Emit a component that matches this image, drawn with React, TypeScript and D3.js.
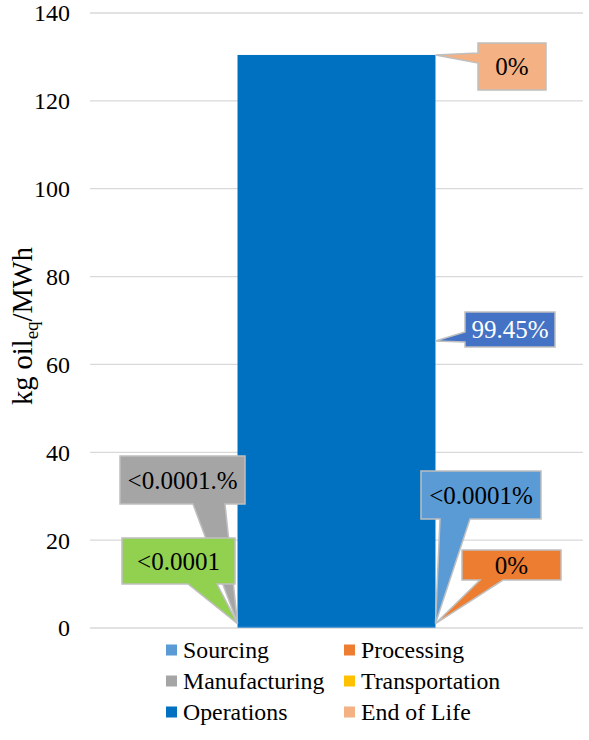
import { useRef, useEffect } from "react";
import * as d3 from "d3";

// stacked segments of the single bar, kg oil_eq/MWh
const stages = ["Sourcing", "Processing", "Manufacturing", "Transportation", "Operations", "End of Life"];
const values = [0.25, 0, 0.0001, 0.0001, 130.2, 0];
const labels = ["<0.0001%", "0%", "<0.0001.%", "<0.0001", "99.45%", "0%"];
const yTicks = [0, 20, 40, 60, 80, 100, 120, 140];

const colors = ["#5B9BD5", "#ED7D31", "#A5A5A5", "#FFC000", "#0070C0", "#F4B183"];
const labelFills = ["#5B9BD5", "#ED7D31", "#A5A5A5", "#92D050", "#4472C4", "#F4B183"];
const labelText = ["#000", "#000", "#000", "#000", "#fff", "#000"];

// callout boxes [x0, y0, x1, y1], pointer side, pointer base, which bar edge and where
type Callout = { box: number[]; side: "bottom" | "left"; base: number[]; edge: "l" | "r"; at: "mid" | "top" };
const callouts: Callout[] = [
  { box: [421, 471, 541, 519], side: "bottom", base: [440, 470], edge: "r", at: "mid" },
  { box: [462, 550, 561, 580], side: "bottom", base: [480, 503], edge: "r", at: "mid" },
  { box: [120, 456, 245, 504], side: "bottom", base: [193, 225], edge: "l", at: "mid" },
  { box: [122, 538, 235, 584], side: "bottom", base: [188, 217], edge: "l", at: "mid" },
  { box: [465, 312, 555, 347], side: "left", base: [332, 342], edge: "r", at: "mid" },
  { box: [478, 43, 546, 90], side: "left", base: [53, 63], edge: "r", at: "top" },
];

const font = "Liberation Serif";

export default function App() {
  const svgRef = useRef<SVGSVGElement>(null);

  useEffect(() => {
    if (!svgRef.current) return;
    const svg = d3.select(svgRef.current);
    svg.selectAll("*").remove();

    const y = d3.scaleLinear().domain([0, 140]).range([628, 13]);
    const x = d3.scaleBand().domain(["bar"]).range([90, 583]).padding(0.427);

    // gridlines
    svg
      .append("g")
      .selectAll("line")
      .data(yTicks)
      .join("line")
      .attr("x1", 90)
      .attr("x2", 583)
      .attr("y1", (d) => y(d))
      .attr("y2", (d) => y(d))
      .attr("stroke", "#d9d9d9")
      .attr("stroke-width", 1.3);

    svg
      .append("g")
      .selectAll("text")
      .data(yTicks)
      .join("text")
      .attr("x", 70)
      .attr("y", (d) => y(d))
      .attr("dy", "0.35em")
      .attr("text-anchor", "end")
      .style("font-family", font)
      .style("font-size", "24px")
      .attr("fill", "#000")
      .text((d) => d);

    // axis title
    const title = svg
      .append("text")
      .attr("transform", "translate(32,326) rotate(-90)")
      .attr("text-anchor", "middle")
      .style("font-family", font)
      .style("font-size", "28.5px")
      .attr("fill", "#000");
    title.append("tspan").text("kg oil");
    title.append("tspan").attr("dy", 6).style("font-size", "19px").text("eq");
    title.append("tspan").attr("dy", -6).text("/MWh");

    // stacked bar
    const row: Record<string, number> = {};
    stages.forEach((s, i) => (row[s] = values[i]));
    const series = d3.stack<Record<string, number>>().keys(stages)([row]);

    const bx = x("bar")!;
    const bw = x.bandwidth();
    svg
      .append("g")
      .selectAll("rect")
      .data(series)
      .join("rect")
      .attr("x", bx)
      .attr("width", bw)
      .attr("y", (d) => y(d[0][1]))
      .attr("height", (d) => y(d[0][0]) - y(d[0][1]))
      .attr("fill", (_, i) => colors[i]);

    // callouts
    const cg = svg.append("g");
    series.forEach((s, i) => {
      const c = callouts[i];
      const [x0, y0, x1, y1] = c.box;
      const tx = c.edge === "r" ? bx + bw : bx;
      const v = c.at === "top" ? s[0][1] : (s[0][0] + s[0][1]) / 2;
      const ty = Math.min(y(v), y(1));
      let p: string;
      if (c.side === "bottom") {
        p = `M${x0},${y0}H${x1}V${y1}H${c.base[1]}L${tx},${ty}L${c.base[0]},${y1}H${x0}Z`;
      } else {
        p = `M${x0},${y0}H${x1}V${y1}H${x0}V${c.base[1]}L${tx},${ty}L${x0},${c.base[0]}Z`;
      }
      cg.append("path")
        .attr("d", p)
        .attr("fill", labelFills[i])
        .attr("stroke", "#BFBFBF")
        .attr("stroke-width", 1.5);
      cg.append("text")
        .attr("x", (x0 + x1) / 2)
        .attr("y", (y0 + y1) / 2)
        .attr("dy", "0.35em")
        .attr("text-anchor", "middle")
        .style("font-family", font)
        .style("font-size", "25px")
        .attr("fill", labelText[i])
        .text(labels[i]);
    });

    // legend, two columns
    const lg = svg.append("g");
    stages.forEach((s, i) => {
      const col = i % 2;
      const r = Math.floor(i / 2);
      const lx = col === 0 ? 166 : 344;
      const ly = 650 + r * 31;
      lg.append("rect")
        .attr("x", lx)
        .attr("y", ly - 5.5)
        .attr("width", 11)
        .attr("height", 11)
        .attr("fill", colors[i]);
      lg.append("text")
        .attr("x", lx + 17)
        .attr("y", ly)
        .attr("dy", "0.35em")
        .style("font-family", font)
        .style("font-size", "23.8px")
        .attr("fill", "#000")
        .text(s);
    });
  }, []);

  return (
    <svg
      ref={svgRef}
      width={589}
      height={740}
      style={{ position: "absolute", left: 0, top: 0, background: "#fff" }}
    />
  );
}
